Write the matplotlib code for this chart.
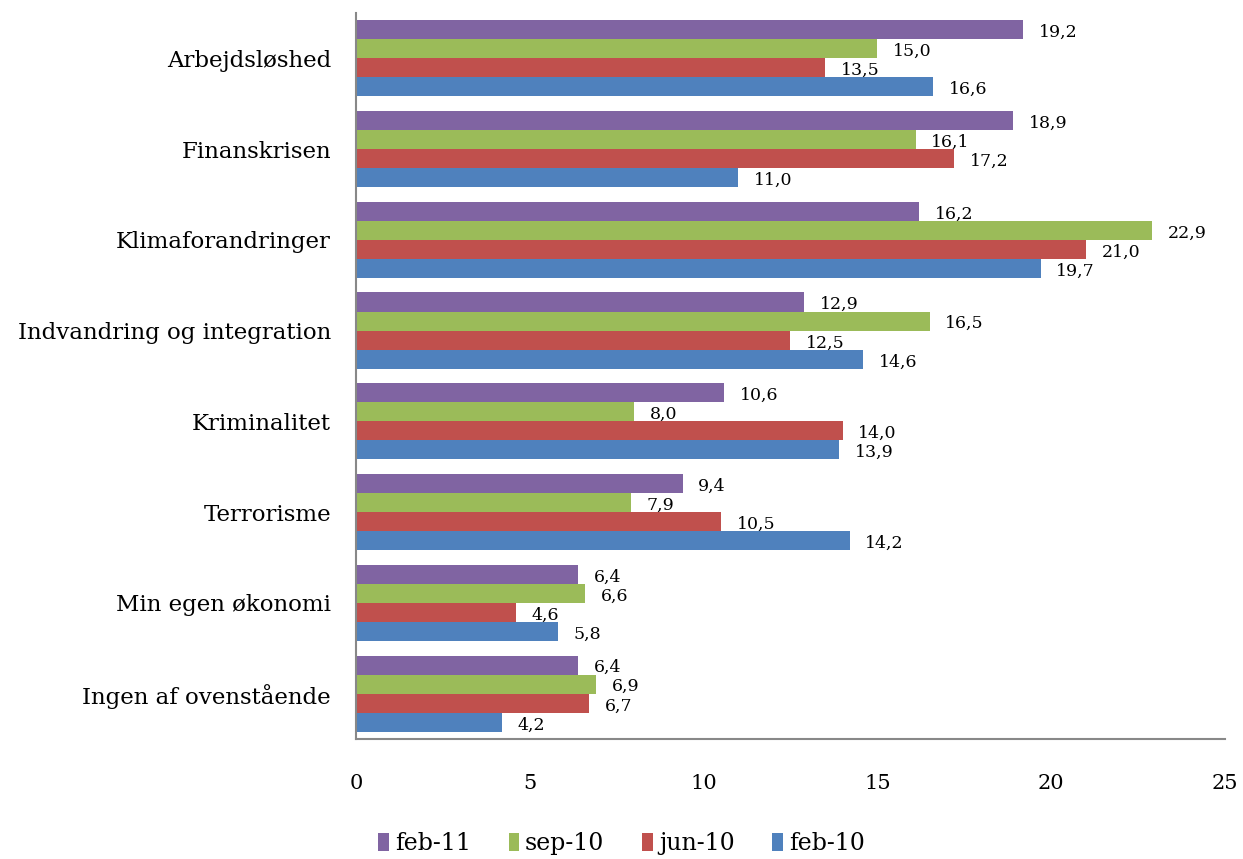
import numpy as np
import matplotlib.pyplot as plt

categories = ["Arbejdsløshed", "Finanskrisen", "Klimaforandringer",
              "Indvandring og integration", "Kriminalitet", "Terrorisme",
              "Min egen økonomi", "Ingen af ovenstående"]
feb_11 = [19.2, 18.9, 16.2, 12.9, 10.6, 9.4, 6.4, 6.4]
sep_10 = [15.0, 16.1, 22.9, 16.5, 8.0, 7.9, 6.6, 6.9]
jun_10 = [13.5, 17.2, 21.0, 12.5, 14.0, 10.5, 4.6, 6.7]
feb_10 = [16.6, 11.0, 19.7, 14.6, 13.9, 14.2, 5.8, 4.2]

series = [("feb-11", feb_11, "#8064A2"),
          ("sep-10", sep_10, "#9BBB59"),
          ("jun-10", jun_10, "#C0504D"),
          ("feb-10", feb_10, "#4F81BD")]

plt.rcParams['font.family'] = ['DejaVu Serif']

fig = plt.figure(figsize=(12.43, 8.59), dpi=100)
ax = fig.add_axes([0.2864, 0.1397, 0.6991, 0.8452])

y = np.arange(len(categories))
h = 0.21
for i, (name, vals, col) in enumerate(series):
    pos = y - 1.5 * h + i * h
    ax.barh(pos, vals, height=h, color=col, label=name)
    for p, v in zip(pos, vals):
        ax.text(v + 0.45, p + 0.03, f"{v:.1f}".replace(".", ","),
                va="center", ha="left", fontsize=12.5)

ax.set_ylim(len(categories) - 0.5, -0.5)
ax.set_xlim(0, 25)
ax.set_xticks([0, 5, 10, 15, 20, 25])
ax.set_yticks(y)
ax.set_yticklabels(categories, fontsize=16.5)
ax.tick_params(axis="x", length=0, pad=25, labelsize=15)
ax.tick_params(axis="y", length=0, pad=18)
for s in ["top", "right"]:
    ax.spines[s].set_visible(False)
for s in ["left", "bottom"]:
    ax.spines[s].set_color("#888888")
    ax.spines[s].set_linewidth(1.5)

handles, labels = ax.get_legend_handles_labels()
fig.legend(handles, labels, loc="lower center", ncol=4, frameon=False,
           bbox_to_anchor=(0.5, -0.02), fontsize=17, handlelength=0.45,
           handleheight=0.8, handletextpad=0.25, columnspacing=1.6)

plt.savefig("out.png")
